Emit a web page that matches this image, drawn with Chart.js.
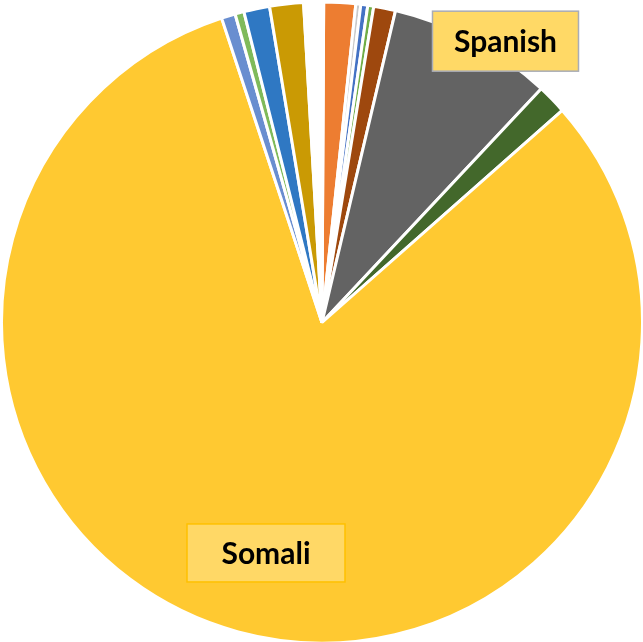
<!DOCTYPE html>
<html>
<head>
<meta charset="utf-8">
<script src="https://cdn.jsdelivr.net/npm/chart.js@4"></script>
<style>
    html, body { margin: 0; padding: 0; background: #fff; overflow: hidden; }
    #wrap { width: 643px; height: 642px; overflow: hidden; }
</style>
</head>
<body>
<div id="wrap"><canvas id="chart" width="644" height="645"></canvas></div>
<script>
// clockwise from 12 o'clock
const languages = ['French', 'Karen', 'Hmong', 'Amharic', 'Arabic', 'Spanish', 'Oromo', 'Somali',
    'Vietnamese', 'Swahili', 'Russian', 'Nepali', 'Tigrinya', 'Other', 'Chinese'];
const shares = [1.6, 0.25, 0.35, 0.3, 1.1, 8.3, 1.5, 81.4, 0.7, 0.45, 1.3, 1.7, 0.15, 0.7, 0.15];
const sliceColors = ['#ED7D31', '#C9C9C9', '#4472C4', '#70AD47', '#9E480E', '#636363', '#43682B', '#FFC931',
    '#698ED0', '#7FBA5A', '#2F78C3', '#CA9A04', '#B9DBA5', '#FFFFFF', '#B9DBA5'];
const shownLabels = ['Spanish', 'Somali'];

// label boxes: angle offset (deg) and distance as fraction of radius
const labelPlace = {
    Spanish: { da: 4.9, r: 1.048, fill: '#FFD966', stroke: '#A9ACB6', w: 146, h: 60 },
    Somali: { da: -1.5, r: 0.74, fill: '#FFD866', stroke: '#FFC000', w: 158, h: 58 }
};

const boxLabels = {
    id: 'boxLabels',
    afterDatasetsDraw(chart) {
        let ctx = chart.ctx;
        let meta = chart.getDatasetMeta(0);
        meta.data.forEach((arc, i) => {
            let name = languages[i];
            if (!shownLabels.includes(name)) return;
            let p = labelPlace[name];
            let mid = (arc.startAngle + arc.endAngle) / 2 + p.da * Math.PI / 180;
            let cx = arc.x + Math.cos(mid) * arc.outerRadius * p.r;
            let cy = arc.y + Math.sin(mid) * arc.outerRadius * p.r;
            ctx.save();
            ctx.fillStyle = p.fill;
            ctx.strokeStyle = p.stroke;
            ctx.lineWidth = 1.5;
            ctx.fillRect(cx - p.w / 2, cy - p.h / 2, p.w, p.h);
            ctx.strokeRect(cx - p.w / 2, cy - p.h / 2, p.w, p.h);
            ctx.fillStyle = '#000';
            ctx.font = 'bold 30px Lato, "Open Sans", sans-serif';
            ctx.textAlign = 'center';
            ctx.textBaseline = 'middle';
            ctx.fillText(name, cx, cy + 1);
            ctx.restore();
        });
    }
};

new Chart(document.getElementById('chart').getContext('2d'), {
    type: 'pie',
    data: {
        labels: languages,
        datasets: [{
            data: shares,
            backgroundColor: sliceColors,
            borderColor: '#FFFFFF',
            borderWidth: 3
        }]
    },
    options: {
        responsive: false,
        animation: false,
        rotation: 0.3,
        layout: { padding: 0 },
        plugins: {
            legend: { display: false },
            tooltip: { enabled: false }
        }
    },
    plugins: [boxLabels]
});
</script>
</body>
</html>
